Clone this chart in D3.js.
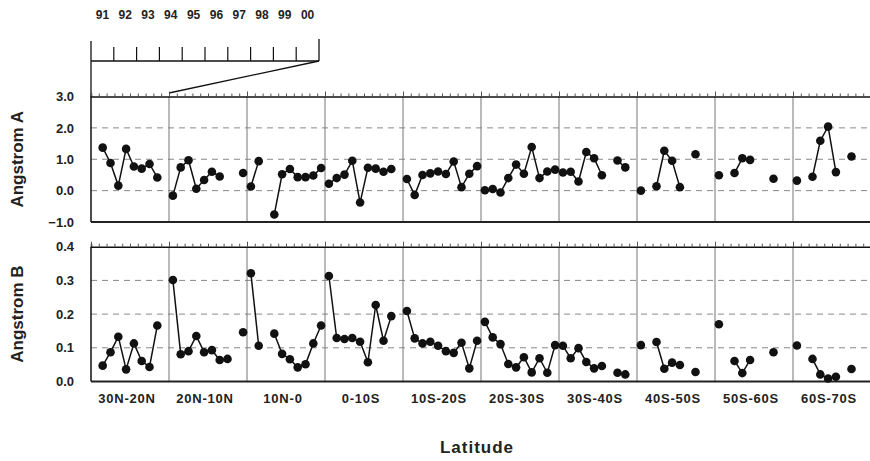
<!DOCTYPE html>
<html>
<head>
<meta charset="utf-8">
<script src="https://cdn.jsdelivr.net/npm/d3@7"></script>
<style>
  body { margin: 0; background: #fff; }
  svg text { font-family: "Liberation Sans", Arial, sans-serif; font-weight: bold; fill: #222; }
</style>
</head>
<body>
<div id="chart"></div>
<script>
// years inside each latitude band (inset key)
var years = ["91", "92", "93", "94", "95", "96", "97", "98", "99", "00"];
var bands = ["30N-20N", "20N-10N", "10N-0", "0-10S", "10S-20S", "20S-30S", "30S-40S", "40S-50S", "50S-60S", "60S-70S"];

var ticksA = [3.0, 2.0, 1.0, 0.0, -1.0];
var ticksB = [0.4, 0.3, 0.2, 0.1, 0.0];

// Angstrom A per band, one value per year (null = no data)
var angstromA = [
    [null, 1.37, 0.88, 0.16, 1.33, 0.77, 0.70, 0.85, 0.42, null],
    [-0.16, 0.74, 0.97, 0.06, 0.34, 0.60, 0.45, null, null, 0.56],
    [0.13, 0.94, null, -0.76, 0.52, 0.69, 0.43, 0.43, 0.48, 0.72],
    [0.22, 0.40, 0.51, 0.95, -0.38, 0.73, 0.70, 0.60, 0.69, null],
    [0.37, -0.14, 0.50, 0.55, 0.61, 0.53, 0.93, 0.11, 0.54, 0.78],
    [0.01, 0.05, -0.06, 0.40, 0.83, 0.54, 1.39, 0.40, 0.61, 0.67],
    [0.58, 0.60, 0.29, 1.23, 1.03, 0.49, null, 0.96, 0.74, null],
    [0.00, null, 0.14, 1.27, 0.95, 0.11, null, 1.16, null, null],
    [0.49, null, 0.56, 1.03, 0.98, null, null, 0.38, null, null],
    [0.32, null, 0.44, 1.59, 2.04, 0.59, null, 1.09, null, null]
];

// Angstrom B per band
var angstromB = [
    [null, 0.047, 0.087, 0.133, 0.036, 0.113, 0.061, 0.043, 0.166, null],
    [0.301, 0.081, 0.090, 0.135, 0.087, 0.093, 0.064, 0.067, null, 0.146],
    [0.321, 0.106, null, 0.142, 0.082, 0.066, 0.042, 0.051, 0.113, 0.166],
    [0.313, 0.129, 0.126, 0.129, 0.118, 0.057, 0.227, 0.121, 0.194, null],
    [0.209, 0.128, 0.113, 0.118, 0.106, 0.090, 0.085, 0.115, 0.039, 0.121],
    [0.177, 0.131, 0.111, 0.052, 0.042, 0.072, 0.027, 0.069, 0.026, 0.108],
    [0.106, 0.069, 0.099, 0.058, 0.039, 0.046, null, 0.026, 0.021, null],
    [0.108, null, 0.117, 0.038, 0.056, 0.049, null, 0.028, null, null],
    [0.170, null, 0.061, 0.025, 0.064, null, null, 0.087, null, null],
    [0.107, null, 0.067, 0.021, 0.009, 0.014, null, 0.037, null, null]
];

var width = 870, height = 461;
var left = 91, right = 871;

var svg = d3.select("#chart").append("svg")
    .attr("width", width)
    .attr("height", height);

// band + year-in-band scales
var xBand = d3.scaleBand().domain(bands).range([left, right]);
var xYear = d3.scalePoint().domain(years).range([0, xBand.bandwidth()]).padding(0.5);
var slots = d3.scaleLinear().domain([0, bands.length * years.length]).range([left, right]);

// ---------- inset year key ----------
var keyScale = d3.scaleLinear().domain([0, years.length]).range([left, 319]);
var key = svg.append("g");

key.append("line")
    .attr("x1", keyScale(0)).attr("x2", keyScale(10))
    .attr("y1", 61).attr("y2", 61)
    .attr("stroke", "#111").attr("stroke-width", 1.3);

key.selectAll("line.kt")
    .data(d3.range(1, 10))
    .enter().append("line")
    .attr("class", "kt")
    .attr("x1", function(d) { return keyScale(d); })
    .attr("x2", function(d) { return keyScale(d); })
    .attr("y1", 61).attr("y2", 47)
    .attr("stroke", "#111").attr("stroke-width", 1.2);

// outer key lines (left down to the plot, right up), plus zoom diagonal
key.append("line")
    .attr("x1", keyScale(0)).attr("x2", keyScale(0))
    .attr("y1", 41).attr("y2", 97)
    .attr("stroke", "#111").attr("stroke-width", 1.3);
key.append("line")
    .attr("x1", keyScale(10)).attr("x2", keyScale(10))
    .attr("y1", 39).attr("y2", 61)
    .attr("stroke", "#111").attr("stroke-width", 1.3);
key.append("line")
    .attr("x1", keyScale(10)).attr("y1", 61)
    .attr("x2", xBand(bands[1])).attr("y2", 93)
    .attr("stroke", "#111").attr("stroke-width", 1.3);

key.selectAll("text")
    .data(years)
    .enter().append("text")
    .attr("x", function(d, i) { return keyScale(i + 0.5); })
    .attr("y", 19)
    .attr("text-anchor", "middle")
    .style("font-size", "12px")
    .text(function(d) { return d; });

// ---------- panels ----------
function drawPanel(yDomain, yRange, tickVals, fmt, data, title) {
    var y = d3.scaleLinear().domain(yDomain).range(yRange);
    var g = svg.append("g");
    var top = y(yDomain[1]), bottom = y(yDomain[0]);

    // dashed grid
    g.selectAll("line.grid")
        .data(tickVals.slice(1, -1))
        .enter().append("line")
        .attr("class", "grid")
        .attr("x1", left).attr("x2", right)
        .attr("y1", function(d) { return y(d); })
        .attr("y2", function(d) { return y(d); })
        .attr("stroke", "#888")
        .attr("stroke-width", 1)
        .attr("stroke-dasharray", "6,5");

    // band dividers
    g.selectAll("line.div")
        .data(bands.slice(1))
        .enter().append("line")
        .attr("class", "div")
        .attr("x1", function(d) { return xBand(d); })
        .attr("x2", function(d) { return xBand(d); })
        .attr("y1", top).attr("y2", bottom)
        .attr("stroke", "#777")
        .attr("stroke-width", 1);

    // small year ticks along the top
    var topAxis = d3.axisTop(slots)
        .tickValues(d3.range(0, 101))
        .tickSize(3)
        .tickFormat("");
    var ta = g.append("g")
        .attr("transform", "translate(0," + top + ")")
        .call(topAxis);
    ta.select(".domain").attr("stroke", "#111").attr("stroke-width", 1.5);
    ta.selectAll(".tick line")
        .attr("stroke", "#555")
        .attr("y2", function(d) { return d % 10 === 0 ? -5 : -3; });

    // bottom and left borders
    g.append("line")
        .attr("x1", left).attr("x2", right)
        .attr("y1", bottom).attr("y2", bottom)
        .attr("stroke", "#222").attr("stroke-width", 2);
    g.append("line")
        .attr("x1", left).attr("x2", left)
        .attr("y1", top).attr("y2", bottom)
        .attr("stroke", "#111").attr("stroke-width", 1.5);

    // y axis labels
    var ya = g.append("g")
        .attr("transform", "translate(" + left + ",0)")
        .call(d3.axisLeft(y).tickValues(tickVals).tickSize(0).tickPadding(17).tickFormat(d3.format(fmt)));
    ya.select(".domain").remove();
    ya.selectAll("text")
        .style("font-size", "13px")
        .style("font-family", "'Liberation Sans', Arial, sans-serif")
        .style("font-weight", "bold")
        .attr("fill", "#222");

    // axis title
    g.append("text")
        .attr("transform", "translate(23," + ((top + bottom) / 2) + ") rotate(-90)")
        .attr("text-anchor", "middle")
        .style("font-size", "17px")
        .text(title);

    // series per band
    var line = d3.line()
        .defined(function(d) { return d != null; })
        .x(function(d, i) { return xYear(years[i]); })
        .y(function(d) { return y(d); });

    bands.forEach(function(b, bi) {
        var bg = g.append("g").attr("transform", "translate(" + xBand(b) + ",0)");
        bg.append("path")
            .attr("d", line(data[bi]))
            .attr("fill", "none")
            .attr("stroke", "#111")
            .attr("stroke-width", 1.5);
        bg.selectAll("circle")
            .data(data[bi].map(function(v, i) { return {v: v, yr: years[i]}; })
                .filter(function(d) { return d.v != null; }))
            .enter().append("circle")
            .attr("cx", function(d) { return xYear(d.yr); })
            .attr("cy", function(d) { return y(d.v); })
            .attr("r", 4.3)
            .attr("fill", "#111");
    });

    return {top: top, bottom: bottom};
}

drawPanel([-1, 3], [222, 96.5], ticksA, ".1f", angstromA, "Angstrom A");
var pb = drawPanel([0, 0.4], [381.5, 246.7], ticksB, ".1f", angstromB, "Angstrom B");

// band labels
svg.selectAll("text.band")
    .data(bands)
    .enter().append("text")
    .attr("class", "band")
    .attr("x", function(d) { return xBand(d) + xBand.bandwidth() / 2 - 3; })
    .attr("y", pb.bottom + 21)
    .attr("text-anchor", "middle")
    .style("font-size", "13px")
    .style("letter-spacing", "0.8px")
    .text(function(d) { return d; });

svg.append("text")
    .attr("x", 477)
    .attr("y", 453)
    .attr("text-anchor", "middle")
    .style("font-size", "17px")
    .style("letter-spacing", "1px")
    .text("Latitude");
</script>
</body>
</html>
